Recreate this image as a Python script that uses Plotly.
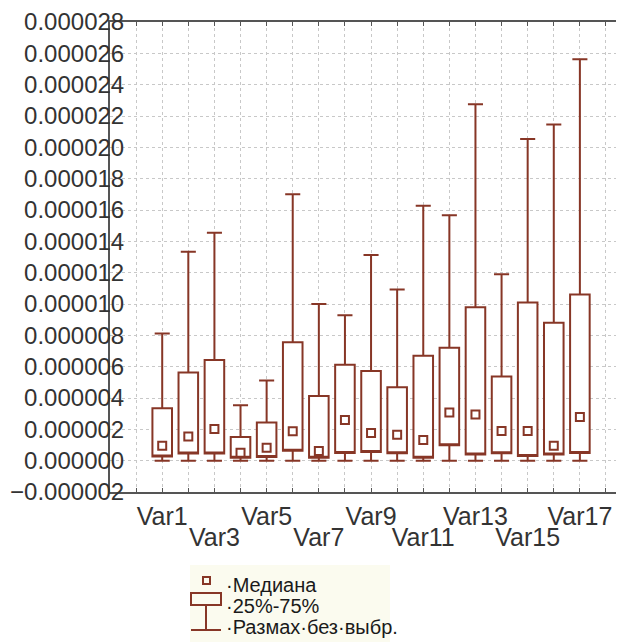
import plotly.graph_objects as go

# ---- data (values in 1e-6 units) ----
categories = [f"Var{i}" for i in range(1, 18)]
positions = list(range(1, 18))
upper = [8.11, 13.33, 14.55, 3.53, 5.11, 17.0, 10.0, 9.28, 13.12, 10.93, 16.27, 15.67, 22.75, 11.9, 20.53, 21.45, 25.62]
q3 = [3.34, 5.62, 6.43, 1.51, 2.43, 7.56, 4.13, 6.13, 5.73, 4.68, 6.69, 7.2, 9.8, 5.37, 10.1, 8.8, 10.6]
median = [0.96, 1.55, 2.02, 0.51, 0.83, 1.87, 0.61, 2.6, 1.77, 1.66, 1.32, 3.07, 2.94, 1.89, 1.89, 0.96, 2.79]
q1 = [0.27, 0.45, 0.45, 0.19, 0.23, 0.64, 0.19, 0.49, 0.55, 0.47, 0.19, 0.98, 0.4, 0.47, 0.3, 0.4, 0.49]
lower = [0.0] * 17
scale = 1e-6

legend_labels = ["·Медиана", "·25%-75%", "·Размах·без·выбр."]

BROWN = "#873626"
FONT = "Liberation Sans, Arial, sans-serif"

fig = go.Figure()
fig.add_trace(go.Box(
    x=positions,
    q1=[v * scale for v in q1],
    median=[v * scale for v in q1],
    q3=[v * scale for v in q3],
    lowerfence=[v * scale for v in lower],
    upperfence=[v * scale for v in upper],
    width=0.75,
    whiskerwidth=0.77,
    fillcolor="white",
    line=dict(color=BROWN, width=2),
    boxpoints=False,
    showlegend=False,
))
fig.add_trace(go.Scatter(
    x=positions,
    y=[v * scale for v in median],
    xaxis="x2",
    mode="markers",
    marker=dict(symbol="square", size=8, color="white", line=dict(color=BROWN, width=2)),
    showlegend=False,
))

tickvals = list(range(0, 19))
row1_vals = [i for i in positions if i % 4 == 1]
row2_vals = [i for i in positions if i % 4 == 3]
row1_text = [categories[i - 1] for i in row1_vals]
row2_text = [categories[i - 1] for i in row2_vals]

# page offset of the figure (body margin)
OFF = 8
# plot area in page pixels
L, T, W, H = 110, 22, 514, 470
FIG_W, FIG_H = 624 - OFF, 642 - OFF


def px(x):
    return (x - L) / W


def py(y):
    return (T + H - y) / H


shapes = [
    dict(type="rect", xref="paper", yref="paper", x0=px(190), x1=px(390), y0=py(565), y1=py(645),
         fillcolor="#fbfbef", line=dict(width=0), layer="below"),
    dict(type="rect", xref="paper", yref="paper", x0=px(203), x1=px(210), y0=py(577), y1=py(584),
         fillcolor="rgba(0,0,0,0)", line=dict(color=BROWN, width=2)),
    dict(type="rect", xref="paper", yref="paper", x0=px(191), x1=px(221), y0=py(593), y1=py(605),
         fillcolor="rgba(0,0,0,0)", line=dict(color=BROWN, width=2)),
    dict(type="line", xref="paper", yref="paper", x0=px(206), x1=px(206), y0=py(605), y1=py(630),
         line=dict(color=BROWN, width=2)),
    dict(type="line", xref="paper", yref="paper", x0=px(191), x1=px(221), y0=py(630), y1=py(630),
         line=dict(color=BROWN, width=2)),
]
annotations = []
for lab, yc in zip(legend_labels, [585, 606, 627]):
    annotations.append(dict(text=lab, xref="paper", yref="paper", x=px(224), y=py(yc),
                            xanchor="left", yanchor="middle", showarrow=False,
                            font=dict(size=20, color="#1a1a1a", family=FONT)))

fig.update_layout(
    width=FIG_W, height=FIG_H,
    margin=dict(l=L - OFF, r=FIG_W - (L - OFF) - W, t=T - OFF, b=FIG_H - (T - OFF) - H, autoexpand=False),
    paper_bgcolor="white", plot_bgcolor="white",
    font=dict(family=FONT, color="#333"),
    shapes=shapes, annotations=annotations,
    showlegend=False,
    xaxis=dict(
        range=[-1, 18.69], tickmode="array", tickvals=row1_vals, ticktext=row1_text, tickangle=0,
        showline=True, linecolor="#555", linewidth=2, mirror=True, ticks="",
        showgrid=False, zeroline=False, automargin=False,
        tickfont=dict(size=25, color="#333"), ticklabelstandoff=1,
    ),
    xaxis2=dict(
        overlaying="x", side="bottom", matches="x", range=[-1, 18.69],
        tickmode="array", tickvals=row2_vals, ticktext=row2_text, tickangle=0,
        showline=False, ticks="", showgrid=False, zeroline=False, automargin=False,
        tickfont=dict(size=25, color="#333"), ticklabelstandoff=28,
    ),
    xaxis3=dict(
        overlaying="x", side="bottom", range=[-1, 18.69],
        tickmode="array", tickvals=tickvals, ticktext=[""] * len(tickvals),
        ticks="inside", ticklen=4, tickcolor="#555", tickwidth=1, mirror="ticks",
        showline=True, linecolor="#555", linewidth=2,
        showgrid=True, gridcolor="#c8c8c8", griddash="dot", gridwidth=1,
        zeroline=False, automargin=False,
    ),
    yaxis=dict(
        range=[-2e-6, 28e-6], tickmode="linear", tick0=0, dtick=2e-6, tickformat=".6f",
        showline=True, linecolor="#555", linewidth=2, ticks="", showgrid=True,
        gridcolor="#c8c8c8", griddash="dot", gridwidth=1, zeroline=False, automargin=False,
        tickfont=dict(size=24, color="#333"), ticklabelstandoff=-21,
    ),
)
# invisible helper so the tick/grid axis is rendered
fig.add_trace(go.Scatter(x=[positions[0]], y=[median[0] * scale], xaxis="x3", mode="markers",
                         marker=dict(opacity=0), showlegend=False, hoverinfo="skip"))
fig.write_html("out.html")
